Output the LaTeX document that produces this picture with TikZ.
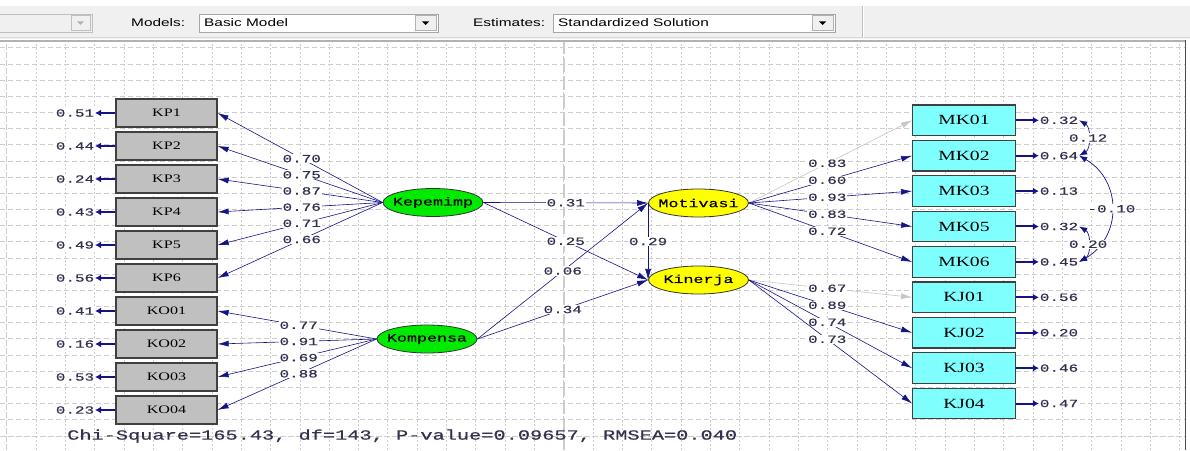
\documentclass[tikz,border=0pt]{standalone}
\usepackage{fontspec}
\usetikzlibrary{shapes.geometric,arrows.meta}
\newfontfamily\lisfont[FakeStretch=1.45,FakeBold=0.6]{Liberation Mono}
\newfontfamily\boxfont[FakeStretch=1.4]{Liberation Serif}
\newfontfamily\guifont[FakeStretch=1.4]{Liberation Sans}
\definecolor{lisblue}{RGB}{20,20,135}
\definecolor{valtext}{RGB}{50,50,80}
\definecolor{gridgray}{RGB}{205,205,205}
\definecolor{boxgray}{RGB}{192,192,192}
\definecolor{boxcyan}{RGB}{128,255,255}
\definecolor{latgreen}{RGB}{0,235,0}
\definecolor{latyellow}{RGB}{255,255,0}
\definecolor{barface}{RGB}{240,240,240}

\begin{document}
\begin{tikzpicture}[x=1pt, y=1pt,
  obsl/.style={draw=black!75, line width=1.2pt, fill=boxgray, minimum width=101pt, minimum height=28pt, inner sep=0pt, font=\boxfont\fontsize{11.5}{12}\selectfont},
  obsr/.style={obsl, fill=boxcyan, minimum width=102.6pt, minimum height=30.6pt, font=\boxfont\fontsize{14}{15}\selectfont},
  latg/.style={ellipse, draw=black!80, line width=0.8pt, fill=latgreen, minimum width=100pt, minimum height=28pt, inner sep=0pt},
  laty/.style={latg, fill=latyellow},
  lname/.style={inner sep=0pt, font=\lisfont\fontsize{11.5}{12}\selectfont},
  val/.style={fill=white, inner sep=0.8pt, text=valtext, font=\lisfont\fontsize{11}{12}\selectfont},
  chi/.style={inner sep=0pt, text=valtext, font=\lisfont\fontsize{14}{15}\selectfont},
  gui/.style={inner sep=0pt, font=\guifont\fontsize{11}{12}\selectfont},
  load/.style={draw=lisblue, line width=0.6pt, -{Latex[length=11pt,width=6pt]}},
  fixload/.style={load, draw=black!22},
  errarr/.style={draw=lisblue, line width=2pt, -{Latex[length=6pt,width=7pt]}},
  cov/.style={draw=lisblue, line width=0.7pt, {Latex[length=8pt,width=6pt]}-{Latex[length=8pt,width=6pt]}},
  hgrid/.style={draw=gridgray, line width=0.6pt, dash pattern=on 5pt off 3pt},
  vgrid/.style={draw=gridgray, line width=0.6pt, dash pattern=on 2pt off 2pt}]
\useasboundingbox (0,0) rectangle (1190,450);
\fill[white] (0,0) rectangle (1190,450);
\begin{scope}[shift={(6.5,14.2)}]
\draw[hgrid] (-6.5,-14.2) grid[xstep=5000, ystep=16.17] (1178.5,394.8);
\draw[vgrid] (-6.5,-14.2) grid[xstep=29.33, ystep=5000] (1178.5,394.8);
\end{scope}
\draw[gray!40, line width=1.5pt, dash pattern=on 14pt off 4pt] (564,0) -- (564,409);
\fill[barface] (0,411) rectangle (1190,444);
\draw[gray!30, line width=0.8pt] (0,412.5) -- (1190,412.5);
\draw[gray!60, line width=1.8pt] (0,409.2) -- (1186,409.2);
\draw[black!70, line width=1.2pt] (1185.5,0) -- (1185.5,409.5);
\draw[gray!50] (862,412) -- (862,444);
\draw[white] (863,412) -- (863,444);
\draw[gray!50, fill=barface] (-1,418) rectangle (92,436);
\draw[gray!50, fill=barface] (71,419.5) rectangle (90,434.5);
\fill[gray!60] (77,428.5) -- (84,428.5) -- (80.5,425) -- cycle;
\node[gui, anchor=west] (models) at (131,427) {Models:};
\draw[gray!70, fill=white] (199,418) rectangle (438,436);
\draw[gray!60, fill=barface] (415,419.5) rectangle (436.5,434.5);
\fill[black] (422,428.5) -- (429,428.5) -- (425.5,425) -- cycle;
\node[gui, anchor=west] (model) at (204,427) {Basic Model};
\node[gui, anchor=west] (estimates) at (473,427) {Estimates:};
\draw[gray!70, fill=white] (553,418) rectangle (835,436);
\draw[gray!60, fill=barface] (812,419.5) rectangle (833.5,434.5);
\fill[black] (819,428.5) -- (826,428.5) -- (822.5,425) -- cycle;
\node[gui, anchor=west] (estimate) at (558,427) {Standardized Solution};

\node[obsl] (kp1) at (166.5,337) {KP1};
\node[obsl] (kp2) at (166.5,304) {KP2};
\node[obsl] (kp3) at (166.5,271) {KP3};
\node[obsl] (kp4) at (166.5,238) {KP4};
\node[obsl] (kp5) at (166.5,205) {KP5};
\node[obsl] (kp6) at (166.5,172) {KP6};
\node[obsl] (ko1) at (166.5,139) {KO01};
\node[obsl] (ko2) at (166.5,106) {KO02};
\node[obsl] (ko3) at (166.5,73) {KO03};
\node[obsl] (ko4) at (166.5,40) {KO04};
\node[val] (dkp1) at (75,337) {0.51};
\node[val] (dkp2) at (75,304) {0.44};
\node[val] (dkp3) at (75,271) {0.24};
\node[val] (dkp4) at (75,238) {0.43};
\node[val] (dkp5) at (75,205) {0.49};
\node[val] (dkp6) at (75,172) {0.56};
\node[val] (dko1) at (75,139) {0.41};
\node[val] (dko2) at (75,106) {0.16};
\node[val] (dko3) at (75,73) {0.53};
\node[val] (dko4) at (75,40) {0.23};
\draw[errarr] (kp1.west) -- (dkp1);
\draw[errarr] (kp2.west) -- (dkp2);
\draw[errarr] (kp3.west) -- (dkp3);
\draw[errarr] (kp4.west) -- (dkp4);
\draw[errarr] (kp5.west) -- (dkp5);
\draw[errarr] (kp6.west) -- (dkp6);
\draw[errarr] (ko1.west) -- (dko1);
\draw[errarr] (ko2.west) -- (dko2);
\draw[errarr] (ko3.west) -- (dko3);
\draw[errarr] (ko4.west) -- (dko4);

\node[obsr] (mk1) at (964,329.7) {MK01};
\node[obsr] (mk2) at (964,294.3) {MK02};
\node[obsr] (mk3) at (964,258.9) {MK03};
\node[obsr] (mk5) at (964,223.5) {MK05};
\node[obsr] (mk6) at (964,188.1) {MK06};
\node[obsr] (kj1) at (964,152.7) {KJ01};
\node[obsr] (kj2) at (964,117.3) {KJ02};
\node[obsr] (kj3) at (964,81.9) {KJ03};
\node[obsr] (kj4) at (964,46.5) {KJ04};
\node[val] (dmk1) at (1059,329.7) {0.32};
\node[val] (dmk2) at (1059,294.3) {0.64};
\node[val] (dmk3) at (1059,258.9) {0.13};
\node[val] (dmk5) at (1059,223.5) {0.32};
\node[val] (dmk6) at (1059,188.1) {0.45};
\node[val] (dkj1) at (1059,152.7) {0.56};
\node[val] (dkj2) at (1059,117.3) {0.20};
\node[val] (dkj3) at (1059,81.9) {0.46};
\node[val] (dkj4) at (1059,46.5) {0.47};
\draw[errarr] (mk1.east) -- (dmk1);
\draw[errarr] (mk2.east) -- (dmk2);
\draw[errarr] (mk3.east) -- (dmk3);
\draw[errarr] (mk5.east) -- (dmk5);
\draw[errarr] (mk6.east) -- (dmk6);
\draw[errarr] (kj1.east) -- (dkj1);
\draw[errarr] (kj2.east) -- (dkj2);
\draw[errarr] (kj3.east) -- (dkj3);
\draw[errarr] (kj4.east) -- (dkj4);
\draw[cov] (dmk1.east) to[bend left=60] node[val] {0.12} (dmk2.east);
\draw[cov] (dmk2.east) to[out=-30, in=30, looseness=1.2] node[val] {-0.10} (dmk6.east);
\draw[cov] (dmk5.east) to[bend left=60] node[val] {0.20} (dmk6.east);

\node[latg, label={[lname]center:Kepemimp}] (kep) at (433,247.5) {};
\node[latg, label={[lname]center:Kompensa}] (kom) at (427,111) {};
\node[laty, label={[lname]center:Motivasi}] (mot) at (698.5,247) {};
\node[laty, label={[lname]center:Kinerja}] (kin) at (698.5,170) {};

\draw[load] (kep.west) -- node[val, pos=0.49] {0.70} (kp1.east);
\draw[load] (kep.west) -- node[val, pos=0.49] {0.75} (kp2.east);
\draw[load] (kep.west) -- node[val, pos=0.49] {0.87} (kp3.east);
\draw[load] (kep.west) -- node[val, pos=0.49] {0.76} (kp4.east);
\draw[load] (kep.west) -- node[val, pos=0.49] {0.71} (kp5.east);
\draw[load] (kep.west) -- node[val, pos=0.49] {0.66} (kp6.east);
\draw[load] (kom.west) -- node[val, pos=0.49] {0.77} (ko1.east);
\draw[load] (kom.west) -- node[val, pos=0.49] {0.91} (ko2.east);
\draw[load] (kom.west) -- node[val, pos=0.49] {0.69} (ko3.east);
\draw[load] (kom.west) -- node[val, pos=0.49] {0.88} (ko4.east);
\draw[fixload] (mot.east) -- node[val, pos=0.48] {0.83} (mk1.west);
\draw[load] (mot.east) -- node[val, pos=0.48] {0.60} (mk2.west);
\draw[load] (mot.east) -- node[val, pos=0.48] {0.93} (mk3.west);
\draw[load] (mot.east) -- node[val, pos=0.48] {0.83} (mk5.west);
\draw[load] (mot.east) -- node[val, pos=0.48] {0.72} (mk6.west);
\draw[fixload] (kin.east) -- node[val, pos=0.48] {0.67} (kj1.west);
\draw[load] (kin.east) -- node[val, pos=0.48] {0.89} (kj2.west);
\draw[load] (kin.east) -- node[val, pos=0.48] {0.74} (kj3.west);
\draw[load] (kin.east) -- node[val, pos=0.48] {0.73} (kj4.west);

\draw[load] (kep.east) -- node[val] {0.31} (mot.west);
\draw[load] (kep.east) -- node[val] {0.25} (kin.west);
\draw[load] (kom.east) -- node[val] {0.06} (mot.west);
\draw[load] (kom.east) -- node[val] {0.34} (kin.west);
\draw[load] (mot.west) -- node[val] {0.29} (kin.west);

\node[chi, anchor=west] (fit) at (67,14) {Chi-Square=165.43, df=143, P-value=0.09657, RMSEA=0.040};
\end{tikzpicture}
\end{document}
